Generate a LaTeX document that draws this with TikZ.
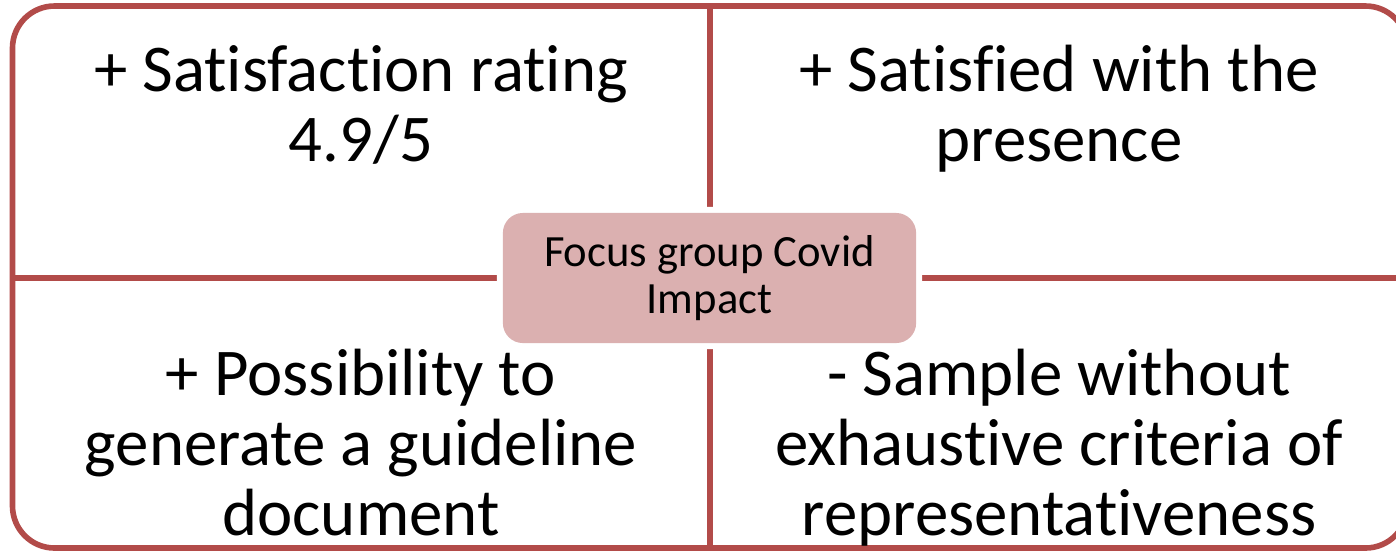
\documentclass[tikz,border=0pt]{standalone}
\usepackage{fontspec}
\setmainfont{Carlito}[Ligatures=NoCommon]
\usepackage{xcolor}
\usepackage{tikz}

\definecolor{framered}{RGB}{178,75,73}
\definecolor{hubpink}{RGB}{219,176,176}

\tikzset{
  quadtext/.style={anchor=base, align=center, font=\fontsize{19}{19.8}\selectfont},
  hub/.style={fill=hubpink, rounded corners=0.2cm, minimum width=4.13cm, minimum height=1.30cm,
    inner sep=0pt, align=center, font=\fontsize{12.7}{13.2}\selectfont,
    preaction={draw=white, line width=0.12cm}},
}

\begin{document}
\begin{tikzpicture}[x=0.01cm, y=-0.01cm]
\useasboundingbox (0,0) rectangle (1396,550);
\clip (0,0) rectangle (1396,550);

% Outer frame
\draw[framered, line width=1.6pt, rounded corners=0.42cm] (12.5,6) rectangle (1407.5,548);

% Cross
\coordinate (n) at (710,6);
\coordinate (s) at (710,548);
\coordinate (w) at (12.5,278);
\coordinate (e) at (1407.5,278);
\draw[framered, line width=1.6pt] (n) -- (s);
\draw[framered, line width=1.6pt] (w) -- (e);

% Centre
\node[hub] (hub) at (709.5,278) {Focus group Covid\\Impact};

% Quadrants (anchored on the last line)
\node[quadtext] (sat) at (361,161) {+ Satisfact\kern0pt ion rat\kern0pt ing\\4.9/5};
\node[quadtext] (pres) at (1059,161) {+ Satisfied with the\\presence};
\node[quadtext] (guide) at (361,535) {+ Possibility to\\generate a guideline\\document};
\node[quadtext] (sample) at (1059,535) {- Sample without\\exhaust\kern0pt ive criteria of\\representat\kern0pt iveness};
\end{tikzpicture}
\end{document}
